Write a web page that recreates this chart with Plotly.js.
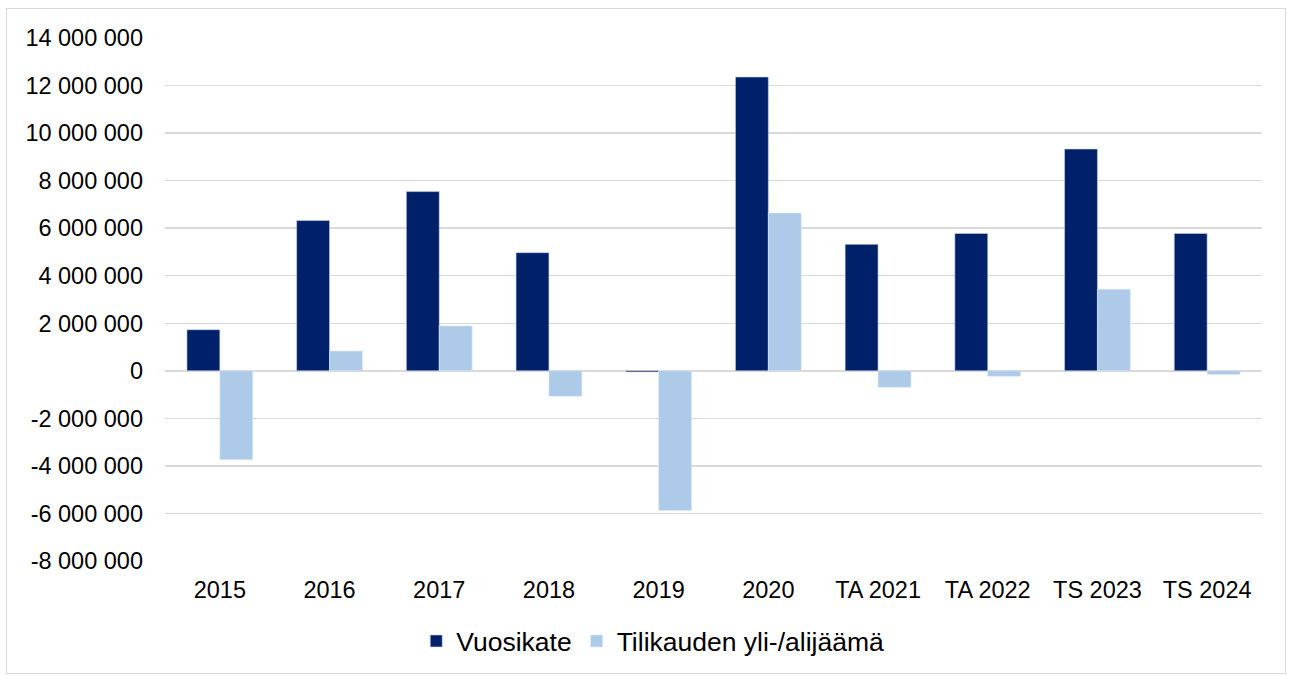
<!DOCTYPE html>
<html>
<head>
<meta charset="utf-8">
<script src="https://cdn.plot.ly/plotly-3.0.1.min.js"></script>
<style>
html,body{margin:0;padding:0;background:#fff;}
#wrap{position:relative;width:1290px;height:675px;}
#chart{position:absolute;left:0;top:0;width:1290px;height:675px;}
#frame{position:absolute;left:6px;top:8px;width:1278px;height:664px;border:1px solid #d9d9d9;pointer-events:none;}
</style>
</head>
<body>
<div id="wrap"><div id="chart"></div><div id="frame"></div></div>
<script>
const categories = ["2015","2016","2017","2018","2019","2020","TA 2021","TA 2022","TS 2023","TS 2024"];
const vuosikate = [1730000, 6320000, 7540000, 4970000, -50000, 12360000, 5320000, 5780000, 9330000, 5780000];
const ylijaama = [-3740000, 830000, 1890000, -1070000, -5880000, 6640000, -690000, -230000, 3430000, -150000];
const seriesNames = ["Vuosikate", "Tilikauden yli-/alijäämä"];
const yTickVals = [14000000,12000000,10000000,8000000,6000000,4000000,2000000,0,-2000000,-4000000,-6000000,-8000000];

function fmt(v){
  const s = Math.abs(v).toString().replace(/\B(?=(\d{3})+(?!\d))/g, " ");
  return (v < 0 ? "-" : "") + s;
}
const yTickText = yTickVals.map(fmt);

const traces = [
  {type:"bar", name:seriesNames[0], x:categories, y:vuosikate,
   marker:{color:"#002169", line:{color:"#c9d6ea", width:0.6}}, hoverinfo:"x+y"},
  {type:"bar", name:seriesNames[1], x:categories, y:ylijaama,
   marker:{color:"#adcbe9", line:{color:"#dce8f5", width:0.6}}, hoverinfo:"x+y"}
];

const layout = {
  width:1290, height:675,
  margin:{l:165, r:28, t:38, b:114},
  paper_bgcolor:"#ffffff", plot_bgcolor:"#ffffff",
  font:{family:"Liberation Sans, Arial, sans-serif", color:"#000000", size:24},
  barmode:"group", bargap:0.4, bargroupgap:0,
  xaxis:{type:"category", tickfont:{size:23.5}, showgrid:false, zeroline:false, showline:false, ticks:"", ticklen:0, ticklabelstandoff:12},
  yaxis:{range:[-8000000,14000000], tickvals:yTickVals, ticktext:yTickText, tickfont:{size:23.5},
         showgrid:true, gridcolor:"#d9d9d9", gridwidth:1.5, zeroline:true, zerolinecolor:"#d9d9d9", zerolinewidth:2.5,
         showline:false, ticks:"", ticklabelstandoff:21},
  showlegend:true,
  legend:{orientation:"h", x:0.506, xref:"container", xanchor:"center", y:0.05, yref:"container", yanchor:"middle",
          font:{size:26.5}, itemwidth:30, tracegroupgap:0, traceorder:"normal", itemclick:false},
};

Plotly.newPlot("chart", traces, layout, {displayModeBar:false, staticPlot:true});
</script>
</body>
</html>
